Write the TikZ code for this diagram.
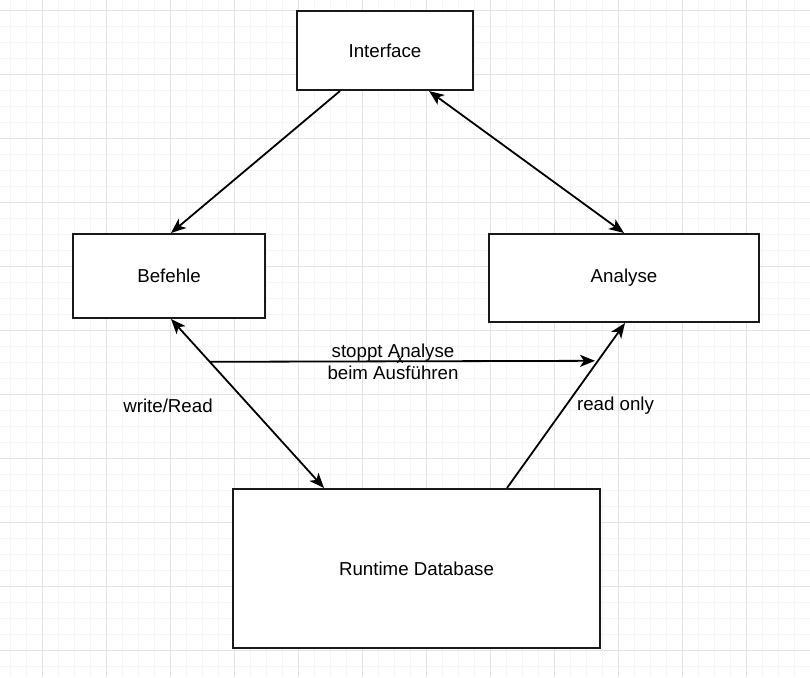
\documentclass[tikz,border=0pt]{standalone}
\usepackage{fontspec}
\setmainfont{Liberation Sans}
\usetikzlibrary{arrows.meta}
\begin{document}
\begin{tikzpicture}[x=1pt,y=-1pt,
  box/.style={draw=black!90,line width=2pt,fill=white,inner sep=0pt,
    font=\fontsize{18.7}{22}\selectfont},
  tip/.style={},
  edge/.style={line width=1.8pt,draw=black,
    -{Stealth[length=15pt,width=12pt,inset=4pt]}},
  dedge/.style={line width=1.8pt,draw=black,
    {Stealth[length=15pt,width=12pt,inset=4pt]}-{Stealth[length=15pt,width=12pt,inset=4pt]}},
  lbl/.style={inner sep=0pt,font=\fontsize{18.7}{22}\selectfont},
  minorgrid/.style={draw=black!4,line width=0.8pt},
  majorgrid/.style={draw=black!11,line width=0.9pt}]
\useasboundingbox (0,0) rectangle (810,677);
\fill[white] (0,0) rectangle (810,677);
\foreach \x in {10.3,26.3,...,810} \draw[minorgrid] (\x,0) -- (\x,677);
\foreach \y in {10.3,26.3,...,677} \draw[minorgrid] (0,\y) -- (810,\y);
\foreach \x in {42.3,106.3,...,810} \draw[majorgrid] (\x,0) -- (\x,677);
\foreach \y in {10.3,74.3,...,677} \draw[majorgrid] (0,\y) -- (810,\y);

\node[box,minimum width=176,minimum height=79] (interface) at (385,50.5) {Interface};
\node[box,minimum width=192,minimum height=84] (befehle) at (169,276) {Befehle};
\node[box,minimum width=270,minimum height=88] (analyse) at (624,278) {Analyse};
\node[box,minimum width=367,minimum height=159] (db) at (416.5,568.5) {Runtime Database};

\draw[edge] ([xshift=44pt]interface.south west) -- ([xshift=2pt]befehle.north);
\draw[dedge] ([xshift=133pt]interface.south west) -- (analyse.north);
\draw[dedge] ([xshift=2pt]befehle.south) -- ([xshift=92pt]db.north west);
\draw[edge] ([xshift=275pt]db.north west) -- ([xshift=1pt]analyse.south);

\coordinate (s) at (210,361.8);
\coordinate (t) at (595,360.8);
\draw[edge] (s) -- (t);

\node[lbl,align=center] (stopp) at (393,362) {stoppt Analyse\\beim Ausführen};
\node[inner sep=0pt,font=\fontsize{14}{16}\selectfont] (xmark) at (400,359.5) {x};
\node[lbl] (wr) at (168,406) {write/Read};
\node[lbl] (ro) at (615.5,406) {read only};
\end{tikzpicture}
\end{document}
